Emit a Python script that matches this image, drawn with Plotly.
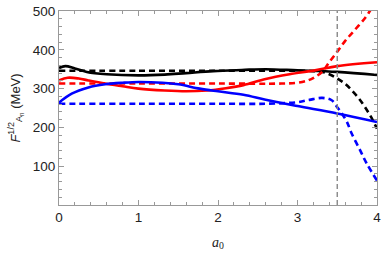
import plotly.graph_objects as go

# ---- data ----
black_solid_x = [0, 0.08, 0.2, 0.35, 0.6, 1.0, 1.33, 1.6, 1.94, 2.3, 2.6, 3.0, 3.5, 4.0]
black_solid_y = [353, 358, 352, 343, 337, 334, 336, 340, 345, 348, 350, 347, 343, 335]

black_dash_x = [0, 1.0, 2.0, 3.0, 3.2, 3.31, 3.4, 3.5, 3.6, 3.68, 3.77, 3.85, 3.93, 4.0]
black_dash_y = [346, 346, 346, 346, 345, 343, 337, 326, 312, 296, 275, 252, 225, 197]

red_solid_x = [0, 0.11, 0.25, 0.37, 0.58, 0.8, 1.0, 1.33, 1.6, 1.86, 2.1, 2.32, 2.6, 2.9, 3.22, 3.5, 4.0]
red_solid_y = [321, 328, 326, 321, 313, 306, 300, 295, 293, 295, 301, 309, 325, 337, 347, 358, 368]

red_dash_x = [0, 1.0, 2.0, 2.8, 3.0, 3.13, 3.22, 3.31, 3.4, 3.5, 3.6, 3.72, 3.85, 3.93, 4.0]
red_dash_y = [313, 313, 313, 313, 315, 321, 330, 343, 368, 395, 423, 451, 482, 506, 525]

blue_solid_x = [0, 0.16, 0.37, 0.58, 0.8, 1.0, 1.3, 1.5, 1.77, 2.0, 2.32, 2.6, 3.0, 3.5, 4.0]
blue_solid_y = [264, 287, 303, 311, 315, 317, 315, 311, 300, 293, 284, 271, 255, 236, 214]

blue_dash_x = [0, 1.0, 2.0, 2.6, 3.0, 3.15, 3.31, 3.43, 3.5, 3.56, 3.62, 3.68, 3.79, 3.87, 4.0]
blue_dash_y = [261, 261, 261, 261, 265, 271, 276, 270, 252, 235, 215, 185, 140, 107, 63]

vline_x = 3.5
x_ticks = [0, 1, 2, 3, 4]
y_ticks = [100, 200, 300, 400, 500]

fig = go.Figure()

series = [
    (black_solid_x, black_solid_y, "black", "solid"),
    (black_dash_x, black_dash_y, "black", "6px,4px"),
    (red_solid_x, red_solid_y, "#ff0000", "solid"),
    (red_dash_x, red_dash_y, "#ff0000", "6px,4px"),
    (blue_solid_x, blue_solid_y, "#0000ff", "solid"),
    (blue_dash_x, blue_dash_y, "#0000ff", "6px,4px"),
]
for xs, ys, col, dash in series:
    fig.add_trace(go.Scatter(x=xs, y=ys, mode="lines",
                             line=dict(color=col, width=2.6, dash=dash, shape="spline", smoothing=1.0),
                             showlegend=False, hoverinfo="skip"))

fig.add_shape(type="line", x0=vline_x, x1=vline_x, xref="x", y0=0, y1=1, yref="y domain",
              line=dict(color="#888888", width=1.4, dash="5px,3px"))

axis_common = dict(showline=True, linecolor="#999999", linewidth=1, mirror="ticks",
                   ticks="inside", tickcolor="#999999", ticklen=5, tickwidth=1,
                   showgrid=False, zeroline=False, automargin=False,
                   tickfont=dict(family="Liberation Sans, Arial, sans-serif", size=13.5, color="#222222"))

fig.update_xaxes(range=[0, 4], tickvals=x_ticks,
                 minor=dict(dtick=0.2, ticks="inside", ticklen=3, tickcolor="#999999"),
                 title=dict(text="<i>a</i><sub>0</sub>",
                            font=dict(family="Liberation Serif, Times New Roman, serif", size=14, color="#222222"),
                            standoff=12),
                 **axis_common)
fig.update_yaxes(range=[0, 500], tickvals=y_ticks,
                 minor=dict(dtick=20, ticks="inside", ticklen=3, tickcolor="#999999"),
                 title=dict(text="<i>F</i><sup>1/2</sup><sub>A<sub>n</sub></sub> (MeV)",
                            font=dict(family="Liberation Sans, Arial, sans-serif", size=13, color="#222222"),
                            standoff=9),
                 **axis_common)

fig.update_layout(width=382, height=253, margin=dict(l=59, r=5, t=11, b=48),
                  plot_bgcolor="white", paper_bgcolor="white")

fig.write_html("out.html", config={"displayModeBar": False},
               post_script="document.body.style.margin='0';document.body.style.padding='0';")
